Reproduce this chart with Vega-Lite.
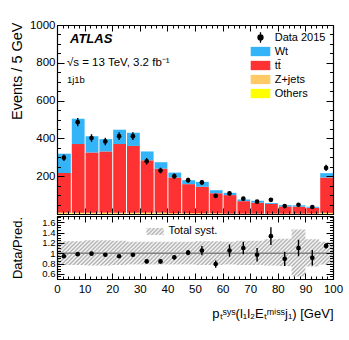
{
  "$schema": "https://vega.github.io/schema/vega-lite/v6.json",
  "padding": {"left": 9, "top": 19, "right": 5, "bottom": 5},
  "background": "white",
  "spacing": 2,
  "bounds": "flush",
  "config": {
    "font": "Liberation Sans",
    "view": {"stroke": null},
    "axis": {"labelColor": "black", "titleColor": "black", "tickColor": "black", "tickWidth": 1, "domainColor": "black", "domainWidth": 1.2, "grid": false, "labelFont": "Liberation Sans", "titleFont": "Liberation Sans", "titleFontWeight": "normal", "labelFontSize": 11.5, "titleFontSize": 13, "labelPadding": 3, "labelFlush": false, "labelOverlap": false}
  },
  "datasets": {
    "stack": [
      {"lo":0,"hi":5,"s":"Others","k":1,"v":3},{"lo":0,"hi":5,"s":"Z+jets","k":2,"v":4},{"lo":0,"hi":5,"s":"tt̄","k":3,"v":210},{"lo":0,"hi":5,"s":"Wt","k":4,"v":102},
      {"lo":5,"hi":10,"s":"Others","k":1,"v":3},{"lo":5,"hi":10,"s":"Z+jets","k":2,"v":4},{"lo":5,"hi":10,"s":"tt̄","k":3,"v":363},{"lo":5,"hi":10,"s":"Wt","k":4,"v":134},
      {"lo":10,"hi":15,"s":"Others","k":1,"v":3},{"lo":10,"hi":15,"s":"Z+jets","k":2,"v":4},{"lo":10,"hi":15,"s":"tt̄","k":3,"v":318},{"lo":10,"hi":15,"s":"Wt","k":4,"v":87},
      {"lo":15,"hi":20,"s":"Others","k":1,"v":3},{"lo":15,"hi":20,"s":"Z+jets","k":2,"v":4},{"lo":15,"hi":20,"s":"tt̄","k":3,"v":324},{"lo":15,"hi":20,"s":"Wt","k":4,"v":65},
      {"lo":20,"hi":25,"s":"Others","k":1,"v":3},{"lo":20,"hi":25,"s":"Z+jets","k":2,"v":4},{"lo":20,"hi":25,"s":"tt̄","k":3,"v":363},{"lo":20,"hi":25,"s":"Wt","k":4,"v":76},
      {"lo":25,"hi":30,"s":"Others","k":1,"v":3},{"lo":25,"hi":30,"s":"Z+jets","k":2,"v":4},{"lo":25,"hi":30,"s":"tt̄","k":3,"v":353},{"lo":25,"hi":30,"s":"Wt","k":4,"v":70},
      {"lo":30,"hi":35,"s":"Others","k":1,"v":3},{"lo":30,"hi":35,"s":"Z+jets","k":2,"v":4},{"lo":30,"hi":35,"s":"tt̄","k":3,"v":277},{"lo":30,"hi":35,"s":"Wt","k":4,"v":47},
      {"lo":35,"hi":40,"s":"Others","k":1,"v":3},{"lo":35,"hi":40,"s":"Z+jets","k":2,"v":4},{"lo":35,"hi":40,"s":"tt̄","k":3,"v":233},{"lo":35,"hi":40,"s":"Wt","k":4,"v":34},
      {"lo":40,"hi":45,"s":"Others","k":1,"v":2},{"lo":40,"hi":45,"s":"Z+jets","k":2,"v":2},{"lo":40,"hi":45,"s":"tt̄","k":3,"v":189},{"lo":40,"hi":45,"s":"Wt","k":4,"v":26},
      {"lo":45,"hi":50,"s":"Others","k":1,"v":2},{"lo":45,"hi":50,"s":"Z+jets","k":2,"v":2},{"lo":45,"hi":50,"s":"tt̄","k":3,"v":154},{"lo":45,"hi":50,"s":"Wt","k":4,"v":21},
      {"lo":50,"hi":55,"s":"Others","k":1,"v":2},{"lo":50,"hi":55,"s":"Z+jets","k":2,"v":2},{"lo":50,"hi":55,"s":"tt̄","k":3,"v":140},{"lo":50,"hi":55,"s":"Wt","k":4,"v":26},
      {"lo":55,"hi":60,"s":"Others","k":1,"v":2},{"lo":55,"hi":60,"s":"Z+jets","k":2,"v":2},{"lo":55,"hi":60,"s":"tt̄","k":3,"v":106},{"lo":55,"hi":60,"s":"Wt","k":4,"v":16},
      {"lo":60,"hi":65,"s":"Others","k":1,"v":1},{"lo":60,"hi":65,"s":"Z+jets","k":2,"v":1},{"lo":60,"hi":65,"s":"tt̄","k":3,"v":98},{"lo":60,"hi":65,"s":"Wt","k":4,"v":12},
      {"lo":65,"hi":70,"s":"Others","k":1,"v":1},{"lo":65,"hi":70,"s":"Z+jets","k":2,"v":1},{"lo":65,"hi":70,"s":"tt̄","k":3,"v":66},{"lo":65,"hi":70,"s":"Wt","k":4,"v":9},
      {"lo":70,"hi":75,"s":"Others","k":1,"v":1},{"lo":70,"hi":75,"s":"Z+jets","k":2,"v":1},{"lo":70,"hi":75,"s":"tt̄","k":3,"v":58},{"lo":70,"hi":75,"s":"Wt","k":4,"v":10},
      {"lo":75,"hi":80,"s":"Others","k":1,"v":1},{"lo":75,"hi":80,"s":"Z+jets","k":2,"v":1},{"lo":75,"hi":80,"s":"tt̄","k":3,"v":51},{"lo":75,"hi":80,"s":"Wt","k":4,"v":5},
      {"lo":80,"hi":85,"s":"Others","k":1,"v":1},{"lo":80,"hi":85,"s":"Z+jets","k":2,"v":1},{"lo":80,"hi":85,"s":"tt̄","k":3,"v":38},{"lo":80,"hi":85,"s":"Wt","k":4,"v":7},
      {"lo":85,"hi":90,"s":"Others","k":1,"v":1},{"lo":85,"hi":90,"s":"Z+jets","k":2,"v":1},{"lo":85,"hi":90,"s":"tt̄","k":3,"v":37},{"lo":85,"hi":90,"s":"Wt","k":4,"v":7},
      {"lo":90,"hi":95,"s":"Others","k":1,"v":1},{"lo":90,"hi":95,"s":"Z+jets","k":2,"v":1},{"lo":90,"hi":95,"s":"tt̄","k":3,"v":31},{"lo":90,"hi":95,"s":"Wt","k":4,"v":6},
      {"lo":95,"hi":100,"s":"Others","k":1,"v":3},{"lo":95,"hi":100,"s":"Z+jets","k":2,"v":3},{"lo":95,"hi":100,"s":"tt̄","k":3,"v":187},{"lo":95,"hi":100,"s":"Wt","k":4,"v":23}
    ],
    "pts": [
      {"c":2.5,"n":298,"e":17,"r":0.94,"re":0.03},
      {"c":7.5,"n":486,"e":22,"r":0.98,"re":0.03},
      {"c":12.5,"n":402,"e":20,"r":0.99,"re":0.03},
      {"c":17.5,"n":384,"e":20,"r":0.97,"re":0.03},
      {"c":22.5,"n":412,"e":20,"r":0.94,"re":0.03},
      {"c":27.5,"n":412,"e":20,"r":0.97,"re":0.035},
      {"c":32.5,"n":279,"e":17,"r":0.84,"re":0.035},
      {"c":37.5,"n":230,"e":15,"r":0.84,"re":0.04},
      {"c":42.5,"n":200,"e":14,"r":0.92,"re":0.045},
      {"c":47.5,"n":179,"e":13,"r":1.01,"re":0.05},
      {"c":52.5,"n":167,"e":13,"r":1.05,"re":0.09},
      {"c":57.5,"n":96,"e":10,"r":0.79,"re":0.07},
      {"c":62.5,"n":109,"e":10,"r":1.05,"re":0.12},
      {"c":67.5,"n":81,"e":9,"r":1.1,"re":0.12},
      {"c":72.5,"n":65,"e":8,"r":0.97,"re":0.13},
      {"c":77.5,"n":75,"e":9,"r":1.33,"re":0.17},
      {"c":82.5,"n":42,"e":6.5,"r":0.89,"re":0.14},
      {"c":87.5,"n":49,"e":7,"r":1.1,"re":0.16},
      {"c":92.5,"n":37,"e":6,"r":0.91,"re":0.15},
      {"c":97.5,"n":244,"e":16,"r":1.14,"re":0.05}
    ],
    "band": [
      {"x":0,"lo":0.77,"hi":1.23},{"x":5,"lo":0.77,"hi":1.23},{"x":10,"lo":0.76,"hi":1.25},{"x":15,"lo":0.76,"hi":1.25},
      {"x":20,"lo":0.77,"hi":1.24},{"x":25,"lo":0.78,"hi":1.22},{"x":30,"lo":0.78,"hi":1.22},{"x":35,"lo":0.78,"hi":1.22},
      {"x":40,"lo":0.78,"hi":1.22},{"x":45,"lo":0.78,"hi":1.22},{"x":50,"lo":0.77,"hi":1.23},{"x":55,"lo":0.77,"hi":1.23},
      {"x":60,"lo":0.78,"hi":1.22},{"x":65,"lo":0.77,"hi":1.24},{"x":70,"lo":0.77,"hi":1.24},{"x":75,"lo":0.76,"hi":1.27},
      {"x":80,"lo":0.75,"hi":1.28},{"x":85,"lo":0.55,"hi":1.46},{"x":90,"lo":0.74,"hi":1.27},{"x":95,"lo":0.78,"hi":1.22},
      {"x":100,"lo":0.78,"hi":1.22}
    ]
  },
  "vconcat": [
    {
      "width": 276,
      "height": 189,
      "data": {"values": [{}]},
      "resolve": {"axis": {"x": "independent", "y": "independent"}},
      "layer": [
        {
          "data": {"name": "stack"},
          "mark": {"type": "bar", "orient": "vertical"},
          "encoding": {
            "x": {"field": "lo", "type": "quantitative", "bin": "binned", "scale": {"domain": [0, 100], "nice": false, "zero": false},
                  "axis": {"orient": "bottom", "values": [0,10,20,30,40,50,60,70,80,90,100], "labels": false, "tickSize": -6, "title": null, "domain": true, "zindex": 1}},
            "x2": {"field": "hi"},
            "y": {"field": "v", "type": "quantitative", "stack": "zero", "scale": {"domain": [0, 1000], "nice": false},
                  "axis": {"orient": "left", "values": [200,400,600,800,1000], "format": "d", "tickSize": -7, "labelPadding": 9, "domain": true, "zindex": 1,
                           "title": "Events / 5 GeV", "titleFontSize": 14.5, "titleX": -33, "titleY": -3, "titleAngle": 270, "titleAlign": "right", "titleBaseline": "bottom", "titleAnchor": "end"}},
            "color": {"field": "s", "type": "nominal",
                      "scale": {"domain": ["Data 2015", "Wt", "tt̄", "Z+jets", "Others"], "range": ["#000000", "#34b4f8", "#fe3232", "#ffc965", "#ffff00"]},
                      "legend": {"orient": "none", "legendX": 197.5, "legendY": 6.5, "title": null, "padding": 0, "labelFontSize": 11, "labelColor": "black", "labelFont": "Liberation Sans", "labelOffset": 8.2, "rowPadding": -2.4, "symbolSize": 100,
                                 "encode": {"symbols": {"update": {
                                   "shape": {"signal": "datum.value === 'Data 2015' ? 'M0,-1.05V1.05M-0.5,0A0.5,0.5,0,1,0,0.5,0A0.5,0.5,0,1,0,-0.5,0Z' : 'M-1.96,-0.93H1.96V0.93H-1.96Z'"},
                                   "fill": {"signal": "datum.value === 'Data 2015' ? '#000000' : datum.value === 'Wt' ? '#34b4f8' : datum.value === 'Z+jets' ? '#ffc965' : datum.value === 'Others' ? '#ffff00' : '#fe3232'"},
                                   "stroke": {"signal": "datum.value === 'Data 2015' ? '#000000' : 'transparent'"},
                                   "strokeWidth": {"value": 1.3},
                                   "opacity": {"value": 1},
                                   "fillOpacity": {"value": 1}
                                 }}}}},
            "order": {"field": "k", "type": "quantitative"}
          }
        },
        {
          "data": {"name": "pts"},
          "mark": {"type": "errorbar", "color": "black", "thickness": 1.4},
          "encoding": {
            "x": {"field": "c", "type": "quantitative", "axis": null},
            "y": {"field": "n", "type": "quantitative", "axis": null},
            "yError": {"field": "e"}
          }
        },
        {
          "data": {"name": "pts"},
          "mark": {"type": "point", "filled": true, "size": 22, "opacity": 1},
          "encoding": {
            "x": {"field": "c", "type": "quantitative",
                  "axis": {"orient": "top", "values": [0,10,20,30,40,50,60,70,80,90,100], "labels": false, "tickSize": -6, "title": null, "domain": true, "zindex": 1}},
            "y": {"field": "n", "type": "quantitative",
                  "axis": {"orient": "right", "values": [0,200,400,600,800,1000], "labels": false, "tickSize": -7, "title": null, "domain": true, "zindex": 1}},
            "color": {"datum": "Data 2015"}
          }
        },
        {
          "mark": {"type": "text", "text": "ATLAS", "fontStyle": "italic", "fontWeight": "bold", "fontSize": 13, "align": "left", "baseline": "alphabetic", "color": "black", "font": "Liberation Sans"},
          "encoding": {
            "x": {"datum": 4.7, "type": "quantitative",
                  "axis": {"orient": "bottom", "values": [0,2,4,6,8,10,12,14,16,18,20,22,24,26,28,30,32,34,36,38,40,42,44,46,48,50,52,54,56,58,60,62,64,66,68,70,72,74,76,78,80,82,84,86,88,90,92,94,96,98,100], "labels": false, "tickSize": -3, "title": null, "domain": false, "zindex": 1}},
            "y": {"datum": 904.8, "type": "quantitative",
                  "axis": {"orient": "left", "values": [0,50,100,150,200,250,300,350,400,450,500,550,600,650,700,750,800,850,900,950,1000], "labels": false, "tickSize": -3.5, "title": null, "domain": false, "zindex": 1}}
          }
        },
        {
          "mark": {"type": "text", "text": "√s = 13 TeV, 3.2 fb⁻¹", "fontSize": 11.5, "align": "left", "baseline": "alphabetic", "color": "black", "font": "Liberation Sans"},
          "encoding": {
            "x": {"datum": 3.6, "type": "quantitative",
                  "axis": {"orient": "top", "values": [0,2,4,6,8,10,12,14,16,18,20,22,24,26,28,30,32,34,36,38,40,42,44,46,48,50,52,54,56,58,60,62,64,66,68,70,72,74,76,78,80,82,84,86,88,90,92,94,96,98,100], "labels": false, "tickSize": -3, "title": null, "domain": false, "zindex": 1}},
            "y": {"datum": 783, "type": "quantitative",
                  "axis": {"orient": "right", "values": [0,50,100,150,200,250,300,350,400,450,500,550,600,650,700,750,800,850,900,950,1000], "labels": false, "tickSize": -3.5, "title": null, "domain": false, "zindex": 1}}
          }
        },
        {
          "mark": {"type": "text", "text": "1j1b", "fontSize": 9.5, "align": "left", "baseline": "alphabetic", "color": "black", "font": "Liberation Sans"},
          "encoding": {
            "x": {"datum": 3.6, "type": "quantitative", "axis": null},
            "y": {"datum": 693, "type": "quantitative", "axis": null}
          }
        }
      ]
    },
    {
      "width": 276,
      "height": 63,
      "data": {"values": [{}]},
      "resolve": {"axis": {"x": "independent", "y": "independent"}},
      "layer": [
        {
          "data": {"name": "band"},
          "mark": {"type": "area", "interpolate": "step-after", "opacity": 1,
                   "fill": {"gradient": "linear", "x1": 0, "y1": 0, "x2": 1.408, "y2": 0.2415, "stops": [
                     {"offset":0,"color":"#aaaaaa"},{"offset":0.005,"color":"#ffffff"},{"offset":0.01,"color":"#aaaaaa"},{"offset":0.015,"color":"#ffffff"},{"offset":0.02,"color":"#aaaaaa"},{"offset":0.025,"color":"#ffffff"},{"offset":0.03,"color":"#aaaaaa"},{"offset":0.035,"color":"#ffffff"},{"offset":0.04,"color":"#aaaaaa"},{"offset":0.045,"color":"#ffffff"},
                     {"offset":0.05,"color":"#aaaaaa"},{"offset":0.055,"color":"#ffffff"},{"offset":0.06,"color":"#aaaaaa"},{"offset":0.065,"color":"#ffffff"},{"offset":0.07,"color":"#aaaaaa"},{"offset":0.075,"color":"#ffffff"},{"offset":0.08,"color":"#aaaaaa"},{"offset":0.085,"color":"#ffffff"},{"offset":0.09,"color":"#aaaaaa"},{"offset":0.095,"color":"#ffffff"},
                     {"offset":0.1,"color":"#aaaaaa"},{"offset":0.105,"color":"#ffffff"},{"offset":0.11,"color":"#aaaaaa"},{"offset":0.115,"color":"#ffffff"},{"offset":0.12,"color":"#aaaaaa"},{"offset":0.125,"color":"#ffffff"},{"offset":0.13,"color":"#aaaaaa"},{"offset":0.135,"color":"#ffffff"},{"offset":0.14,"color":"#aaaaaa"},{"offset":0.145,"color":"#ffffff"},
                     {"offset":0.15,"color":"#aaaaaa"},{"offset":0.155,"color":"#ffffff"},{"offset":0.16,"color":"#aaaaaa"},{"offset":0.165,"color":"#ffffff"},{"offset":0.17,"color":"#aaaaaa"},{"offset":0.175,"color":"#ffffff"},{"offset":0.18,"color":"#aaaaaa"},{"offset":0.185,"color":"#ffffff"},{"offset":0.19,"color":"#aaaaaa"},{"offset":0.195,"color":"#ffffff"},
                     {"offset":0.2,"color":"#aaaaaa"},{"offset":0.205,"color":"#ffffff"},{"offset":0.21,"color":"#aaaaaa"},{"offset":0.215,"color":"#ffffff"},{"offset":0.22,"color":"#aaaaaa"},{"offset":0.225,"color":"#ffffff"},{"offset":0.23,"color":"#aaaaaa"},{"offset":0.235,"color":"#ffffff"},{"offset":0.24,"color":"#aaaaaa"},{"offset":0.245,"color":"#ffffff"},
                     {"offset":0.25,"color":"#aaaaaa"},{"offset":0.255,"color":"#ffffff"},{"offset":0.26,"color":"#aaaaaa"},{"offset":0.265,"color":"#ffffff"},{"offset":0.27,"color":"#aaaaaa"},{"offset":0.275,"color":"#ffffff"},{"offset":0.28,"color":"#aaaaaa"},{"offset":0.285,"color":"#ffffff"},{"offset":0.29,"color":"#aaaaaa"},{"offset":0.295,"color":"#ffffff"},
                     {"offset":0.3,"color":"#aaaaaa"},{"offset":0.305,"color":"#ffffff"},{"offset":0.31,"color":"#aaaaaa"},{"offset":0.315,"color":"#ffffff"},{"offset":0.32,"color":"#aaaaaa"},{"offset":0.325,"color":"#ffffff"},{"offset":0.33,"color":"#aaaaaa"},{"offset":0.335,"color":"#ffffff"},{"offset":0.34,"color":"#aaaaaa"},{"offset":0.345,"color":"#ffffff"},
                     {"offset":0.35,"color":"#aaaaaa"},{"offset":0.355,"color":"#ffffff"},{"offset":0.36,"color":"#aaaaaa"},{"offset":0.365,"color":"#ffffff"},{"offset":0.37,"color":"#aaaaaa"},{"offset":0.375,"color":"#ffffff"},{"offset":0.38,"color":"#aaaaaa"},{"offset":0.385,"color":"#ffffff"},{"offset":0.39,"color":"#aaaaaa"},{"offset":0.395,"color":"#ffffff"},
                     {"offset":0.4,"color":"#aaaaaa"},{"offset":0.405,"color":"#ffffff"},{"offset":0.41,"color":"#aaaaaa"},{"offset":0.415,"color":"#ffffff"},{"offset":0.42,"color":"#aaaaaa"},{"offset":0.425,"color":"#ffffff"},{"offset":0.43,"color":"#aaaaaa"},{"offset":0.435,"color":"#ffffff"},{"offset":0.44,"color":"#aaaaaa"},{"offset":0.445,"color":"#ffffff"},
                     {"offset":0.45,"color":"#aaaaaa"},{"offset":0.455,"color":"#ffffff"},{"offset":0.46,"color":"#aaaaaa"},{"offset":0.465,"color":"#ffffff"},{"offset":0.47,"color":"#aaaaaa"},{"offset":0.475,"color":"#ffffff"},{"offset":0.48,"color":"#aaaaaa"},{"offset":0.485,"color":"#ffffff"},{"offset":0.49,"color":"#aaaaaa"},{"offset":0.495,"color":"#ffffff"},
                     {"offset":0.5,"color":"#aaaaaa"},{"offset":0.505,"color":"#ffffff"},{"offset":0.51,"color":"#aaaaaa"},{"offset":0.515,"color":"#ffffff"},{"offset":0.52,"color":"#aaaaaa"},{"offset":0.525,"color":"#ffffff"},{"offset":0.53,"color":"#aaaaaa"},{"offset":0.535,"color":"#ffffff"},{"offset":0.54,"color":"#aaaaaa"},{"offset":0.545,"color":"#ffffff"},
                     {"offset":0.55,"color":"#aaaaaa"},{"offset":0.555,"color":"#ffffff"},{"offset":0.56,"color":"#aaaaaa"},{"offset":0.565,"color":"#ffffff"},{"offset":0.57,"color":"#aaaaaa"},{"offset":0.575,"color":"#ffffff"},{"offset":0.58,"color":"#aaaaaa"},{"offset":0.585,"color":"#ffffff"},{"offset":0.59,"color":"#aaaaaa"},{"offset":0.595,"color":"#ffffff"},
                     {"offset":0.6,"color":"#aaaaaa"},{"offset":0.605,"color":"#ffffff"},{"offset":0.61,"color":"#aaaaaa"},{"offset":0.615,"color":"#ffffff"},{"offset":0.62,"color":"#aaaaaa"},{"offset":0.625,"color":"#ffffff"},{"offset":0.63,"color":"#aaaaaa"},{"offset":0.635,"color":"#ffffff"},{"offset":0.64,"color":"#aaaaaa"},{"offset":0.645,"color":"#ffffff"},
                     {"offset":0.65,"color":"#aaaaaa"},{"offset":0.655,"color":"#ffffff"},{"offset":0.66,"color":"#aaaaaa"},{"offset":0.665,"color":"#ffffff"},{"offset":0.67,"color":"#aaaaaa"},{"offset":0.675,"color":"#ffffff"},{"offset":0.68,"color":"#aaaaaa"},{"offset":0.685,"color":"#ffffff"},{"offset":0.69,"color":"#aaaaaa"},{"offset":0.695,"color":"#ffffff"},
                     {"offset":0.7,"color":"#aaaaaa"},{"offset":0.705,"color":"#ffffff"},{"offset":0.71,"color":"#aaaaaa"},{"offset":0.715,"color":"#ffffff"},{"offset":0.72,"color":"#aaaaaa"},{"offset":0.725,"color":"#ffffff"},{"offset":0.73,"color":"#aaaaaa"},{"offset":0.735,"color":"#ffffff"},{"offset":0.74,"color":"#aaaaaa"},{"offset":0.745,"color":"#ffffff"},
                     {"offset":0.75,"color":"#aaaaaa"},{"offset":0.755,"color":"#ffffff"},{"offset":0.76,"color":"#aaaaaa"},{"offset":0.765,"color":"#ffffff"},{"offset":0.77,"color":"#aaaaaa"},{"offset":0.775,"color":"#ffffff"},{"offset":0.78,"color":"#aaaaaa"},{"offset":0.785,"color":"#ffffff"},{"offset":0.79,"color":"#aaaaaa"},{"offset":0.795,"color":"#ffffff"},
                     {"offset":0.8,"color":"#aaaaaa"},{"offset":0.805,"color":"#ffffff"},{"offset":0.81,"color":"#aaaaaa"}
                   ]}},
          "encoding": {
            "x": {"field": "x", "type": "quantitative", "scale": {"domain": [0, 100], "nice": false, "zero": false},
                  "axis": {"orient": "bottom", "values": [0,10,20,30,40,50,60,70,80,90,100], "format": "d", "tickSize": -6, "labelPadding": 10, "domain": true, "zindex": 1,
                           "title": "pₜˢʸˢ(l₁l₂Eₜᵐⁱˢˢj₁) [GeV]", "titleFontSize": 13, "titleX": 276, "titleY": 38, "titleAlign": "right", "titleBaseline": "alphabetic", "titleAnchor": "end"}},
            "y": {"field": "lo", "type": "quantitative", "scale": {"domain": [0.5, 1.72], "nice": false, "zero": false},
                  "axis": {"orient": "left", "values": [0.6,0.8,1,1.2,1.4,1.6], "format": "~g", "labelFontSize": 9.5, "tickSize": -7, "labelPadding": 9, "domain": true, "zindex": 1,
                           "title": "Data/Pred.", "titleFontSize": 13, "titleX": -33, "titleY": 31.5, "titleAngle": 270, "titleAlign": "center", "titleBaseline": "bottom"}},
            "y2": {"field": "hi"}
          }
        },
        {
          "mark": {"type": "rule", "color": "#808080", "strokeWidth": 1.6},
          "encoding": {"y": {"datum": 1, "type": "quantitative", "axis": null}}
        },
        {
          "data": {"name": "pts"},
          "mark": {"type": "errorbar", "color": "black", "thickness": 1.4},
          "encoding": {
            "x": {"field": "c", "type": "quantitative", "axis": null},
            "y": {"field": "r", "type": "quantitative", "axis": null},
            "yError": {"field": "re"}
          }
        },
        {
          "data": {"name": "pts"},
          "mark": {"type": "point", "filled": true, "size": 22, "opacity": 1, "color": "black"},
          "encoding": {
            "x": {"field": "c", "type": "quantitative",
                  "axis": {"orient": "top", "values": [0,10,20,30,40,50,60,70,80,90,100], "labels": false, "tickSize": -6, "title": null, "domain": true, "zindex": 1}},
            "y": {"field": "r", "type": "quantitative",
                  "axis": {"orient": "right", "values": [0.6,0.8,1,1.2,1.4,1.6], "labels": false, "tickSize": -7, "title": null, "domain": true, "zindex": 1}}
          }
        },
        {
          "mark": {"type": "rect", "fill": {"gradient": "linear", "x1": 0, "y1": 0, "x2": 1.98, "y2": 0.795, "stops": [
            {"offset":0,"color":"#aaaaaa"},{"offset":0.05,"color":"#ffffff"},{"offset":0.1,"color":"#aaaaaa"},{"offset":0.15,"color":"#ffffff"},{"offset":0.2,"color":"#aaaaaa"},{"offset":0.25,"color":"#ffffff"},{"offset":0.3,"color":"#aaaaaa"},{"offset":0.35,"color":"#ffffff"},{"offset":0.4,"color":"#aaaaaa"},{"offset":0.45,"color":"#ffffff"},{"offset":0.5,"color":"#aaaaaa"},{"offset":0.55,"color":"#ffffff"},{"offset":0.6,"color":"#aaaaaa"},{"offset":0.65,"color":"#ffffff"}
          ]}},
          "encoding": {
            "x": {"datum": 32.4, "type": "quantitative",
                  "axis": {"orient": "bottom", "values": [0,2,4,6,8,10,12,14,16,18,20,22,24,26,28,30,32,34,36,38,40,42,44,46,48,50,52,54,56,58,60,62,64,66,68,70,72,74,76,78,80,82,84,86,88,90,92,94,96,98,100], "labels": false, "tickSize": -3, "title": null, "domain": false, "zindex": 1}},
            "x2": {"datum": 38.7},
            "y": {"datum": 1.487, "type": "quantitative",
                  "axis": {"orient": "left", "values": [0.5,0.55,0.6,0.65,0.7,0.75,0.8,0.85,0.9,0.95,1,1.05,1.1,1.15,1.2,1.25,1.3,1.35,1.4,1.45,1.5,1.55,1.6,1.65,1.7], "labels": false, "tickSize": -3.5, "title": null, "domain": false, "zindex": 1}},
            "y2": {"datum": 1.352}
          }
        },
        {
          "mark": {"type": "text", "text": "Total syst.", "fontSize": 11, "align": "left", "baseline": "middle", "color": "black", "font": "Liberation Sans"},
          "encoding": {
            "x": {"datum": 40.4, "type": "quantitative",
                  "axis": {"orient": "top", "values": [0,2,4,6,8,10,12,14,16,18,20,22,24,26,28,30,32,34,36,38,40,42,44,46,48,50,52,54,56,58,60,62,64,66,68,70,72,74,76,78,80,82,84,86,88,90,92,94,96,98,100], "labels": false, "tickSize": -3, "title": null, "domain": false, "zindex": 1}},
            "y": {"datum": 1.435, "type": "quantitative",
                  "axis": {"orient": "right", "values": [0.5,0.55,0.6,0.65,0.7,0.75,0.8,0.85,0.9,0.95,1,1.05,1.1,1.15,1.2,1.25,1.3,1.35,1.4,1.45,1.5,1.55,1.6,1.65,1.7], "labels": false, "tickSize": -3.5, "title": null, "domain": false, "zindex": 1}}
          }
        }
      ]
    }
  ]
}
